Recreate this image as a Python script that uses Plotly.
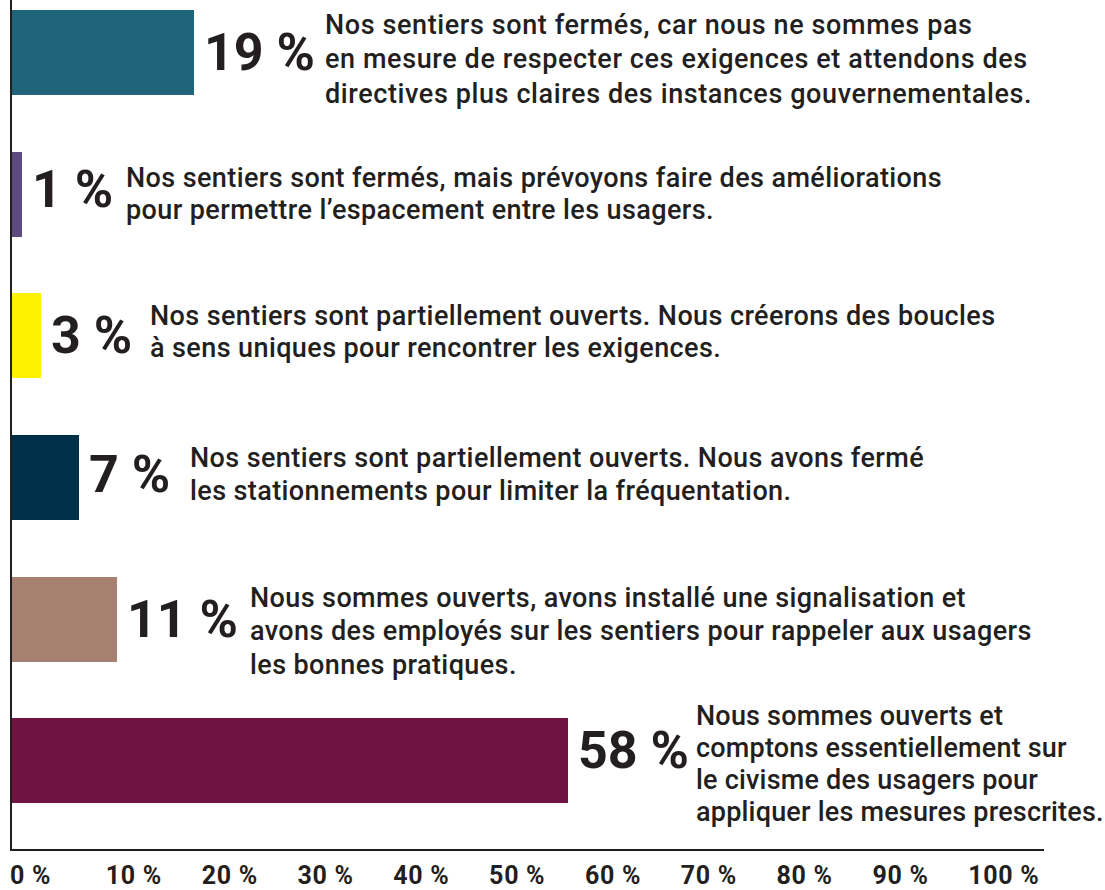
import plotly.graph_objects as go

# ---- data ----
percent_values = [19, 1, 3, 7, 11, 58]
percent_labels = ["19 %", "1 %", "3 %", "7 %", "11 %", "58 %"]
descriptions = [
    ["Nos sentiers sont fermés, car nous ne sommes pas",
     "en mesure de respecter ces exigences et attendons des",
     "directives plus claires des instances gouvernementales."],
    ["Nos sentiers sont fermés, mais prévoyons faire des améliorations",
     "pour permettre l’espacement entre les usagers."],
    ["Nos sentiers sont partiellement ouverts. Nous créerons des boucles",
     "à sens uniques pour rencontrer les exigences."],
    ["Nos sentiers sont partiellement ouverts. Nous avons fermé",
     "les stationnements pour limiter la fréquentation."],
    ["Nous sommes ouverts, avons installé une signalisation et",
     "avons des employés sur les sentiers pour rappeler aux usagers",
     "les bonnes pratiques."],
    ["Nous sommes ouverts et",
     "comptons essentiellement sur",
     "le civisme des usagers pour",
     "appliquer les mesures prescrites."],
]
tick_values = [0, 10, 20, 30, 40, 50, 60, 70, 80, 90, 100]
tick_labels = ["0 %", "10 %", "20 %", "30 %", "40 %", "50 %",
               "60 %", "70 %", "80 %", "90 %", "100 %"]

# ---- style ----
bar_colors = ["#206479", "#5d4a7e", "#fff200", "#003049", "#a68172", "#701343"]
ink = "#231f20"
label_dy = [0, -5, 0, -3, 0, -10]          # px vertical nudge of big % labels
text_dx = [129, 102, 107, 109, 131, 126]   # px from bar end to description
text_first_dy = [-27.5, -16.5, -19.5, -19.5, -21.5, -44.5]
text_step = [34.5, 32, 32, 33, 33.5, 32]
text_tracking = [0.6, 0.4, 0.4, 0.4, 0.4, 0.2]


def spaced(s, px):
    return '<span style="letter-spacing:%.1fpx">%s</span>' % (px, s)


positions = list(range(len(percent_values)))

fig = go.Figure()
fig.add_trace(go.Bar(
    x=percent_values, y=positions, orientation="h",
    marker=dict(color=bar_colors, line=dict(width=0)),
    width=0.6, hoverinfo="skip", showlegend=False,
))

annotations = []
for i, (v, lab) in enumerate(zip(percent_values, percent_labels)):
    annotations.append(dict(
        x=v, y=i, xref="x", yref="y", text=lab, showarrow=False,
        xanchor="left", yanchor="middle", xshift=8, yshift=-label_dy[i],
        font=dict(family="Roboto", size=52, color=ink, weight="bold"),
    ))
    for j, line in enumerate(descriptions[i]):
        dy = text_first_dy[i] + j * text_step[i]
        annotations.append(dict(
            x=v, y=i, xref="x", yref="y", text=spaced(line, text_tracking[i]),
            showarrow=False,
            xanchor="left", yanchor="middle", xshift=text_dx[i], yshift=-dy,
            font=dict(family="Roboto", size=27, color=ink, weight=500),
        ))

fig.update_layout(
    width=1105, height=890,
    margin=dict(l=12, r=61, t=0, b=39),
    paper_bgcolor="white", plot_bgcolor="white",
    annotations=annotations,
    bargap=0,
    xaxis=dict(
        range=[0, 107.7], showgrid=False, zeroline=False,
        showline=True, linecolor=ink, linewidth=2,
        tickmode="array", tickvals=tick_values,
        ticktext=[spaced(t, 0.7) for t in tick_labels],
        ticks="", ticklabelposition="outside right", ticklabelshift=-3,
        ticklabelstandoff=3,
        tickfont=dict(family="Roboto", size=25, color=ink, weight="bold"),
        fixedrange=True,
    ),
    yaxis=dict(
        range=[5.623, -0.37], showgrid=False, zeroline=False,
        showline=True, linecolor=ink, linewidth=2,
        showticklabels=False, ticks="", fixedrange=True,
    ),
)

fig.write_html(
    "out.html",
    config={"displayModeBar": False},
    post_script="document.body.style.margin='0';document.body.style.padding='0';",
)
